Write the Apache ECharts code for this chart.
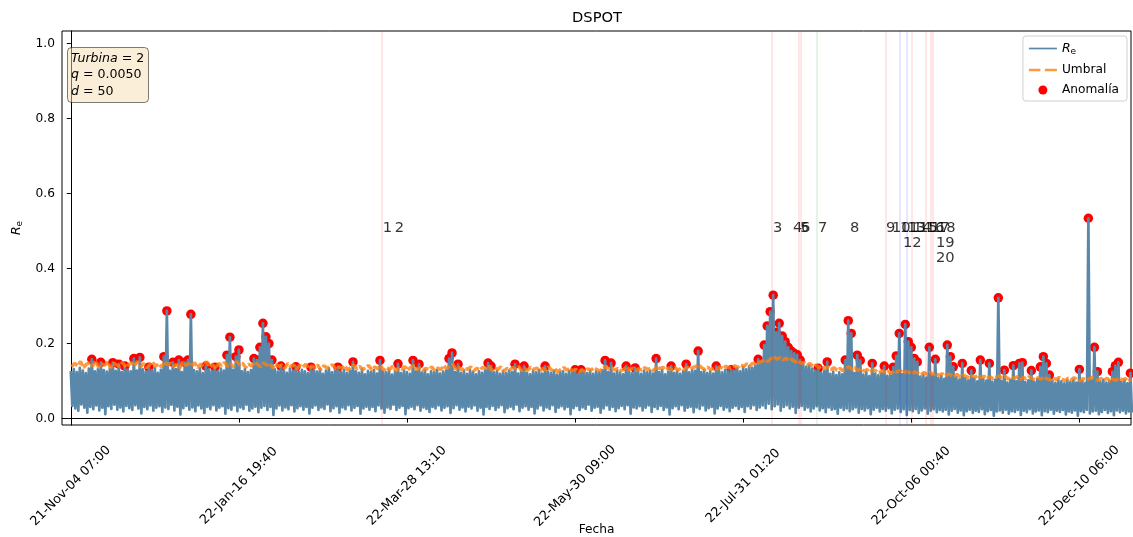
<!DOCTYPE html>
<html><head><meta charset="utf-8">
<script src="https://cdn.jsdelivr.net/npm/echarts@6/dist/echarts.min.js"></script>
<style>html,body{margin:0;padding:0;background:#fff}#c{width:1133px;height:537px}</style>
</head><body><div id="c"></div>
<script>
// ---- data ----
const tickPos = [0, 8400, 16800, 25200, 33600, 42000, 50400];
const tickLabels = ['21-Nov-04 07:00','22-Jan-16 19:40','22-Mar-28 13:10','22-May-30 09:00','22-Jul-31 01:20','22-Oct-06 00:40','22-Dec-10 06:00'];
const yTicks = [0, 0.2, 0.4, 0.6, 0.8, 1.0];
const step = 150; // samples per block (one high + one low reading of R_e)

const reHi = [
0.127,0.132,0.124,0.135,0.128,0.121,0.133,0.158,0.126,0.131,
0.150,0.129,0.125,0.133,0.149,0.127,0.145,0.124,0.140,0.130,
0.126,0.160,0.128,0.163,0.131,0.125,0.137,0.129,0.134,0.122,
0.130,0.165,0.287,0.127,0.150,0.132,0.156,0.124,0.150,0.156,
0.278,0.129,0.126,0.134,0.121,0.140,0.131,0.127,0.137,0.125,
0.133,0.128,0.169,0.217,0.130,0.165,0.183,0.126,0.132,0.124,
0.129,0.160,0.156,0.190,0.254,0.218,0.200,0.156,0.131,0.125,
0.140,0.128,0.122,0.133,0.127,0.138,0.124,0.130,0.126,0.121,
0.137,0.129,0.125,0.132,0.119,0.128,0.134,0.123,0.127,0.137,
0.124,0.130,0.121,0.128,0.151,0.126,0.122,0.131,0.118,0.127,
0.124,0.129,0.120,0.155,0.126,0.123,0.130,0.117,0.125,0.146,
0.121,0.128,0.124,0.119,0.155,0.126,0.145,0.122,0.129,0.118,
0.126,0.123,0.130,0.120,0.125,0.128,0.160,0.175,0.124,0.145,
0.121,0.127,0.119,0.129,0.124,0.118,0.126,0.122,0.130,0.148,
0.140,0.123,0.127,0.119,0.125,0.121,0.128,0.124,0.145,0.120,
0.126,0.140,0.122,0.118,0.127,0.123,0.129,0.120,0.140,0.125,
0.121,0.128,0.117,0.124,0.126,0.119,0.127,0.122,0.130,0.118,
0.130,0.125,0.121,0.128,0.119,0.126,0.123,0.129,0.155,0.124,
0.148,0.120,0.127,0.122,0.118,0.140,0.125,0.121,0.135,0.126,
0.119,0.128,0.123,0.127,0.120,0.160,0.124,0.129,0.118,0.125,
0.140,0.122,0.128,0.119,0.126,0.145,0.123,0.130,0.127,0.180,
0.124,0.129,0.121,0.126,0.120,0.140,0.127,0.123,0.130,0.125,
0.130,0.128,0.134,0.126,0.137,0.131,0.139,0.135,0.142,0.158,
0.150,0.196,0.247,0.285,0.329,0.230,0.254,0.220,0.205,0.190,
0.180,0.174,0.170,0.156,0.146,0.138,0.142,0.133,0.128,0.134,
0.122,0.127,0.151,0.119,0.125,0.116,0.123,0.118,0.156,0.261,
0.227,0.121,0.169,0.155,0.117,0.124,0.113,0.147,0.120,0.115,
0.122,0.140,0.114,0.119,0.137,0.167,0.227,0.118,0.251,0.205,
0.190,0.160,0.151,0.112,0.117,0.109,0.190,0.113,0.158,0.108,
0.114,0.106,0.196,0.165,0.138,0.110,0.104,0.147,0.108,0.102,
0.128,0.107,0.099,0.156,0.105,0.101,0.147,0.098,0.104,0.322,
0.100,0.129,0.096,0.103,0.141,0.099,0.147,0.149,0.097,0.102,
0.128,0.098,0.105,0.138,0.165,0.147,0.116,0.101,0.095,0.103,
0.099,0.094,0.102,0.097,0.104,0.096,0.131,0.100,0.095,0.534,
0.101,0.190,0.125,0.098,0.103,0.096,0.100,0.125,0.141,0.150,
0.097,0.102,0.094,0.121
];
const reLo = [
0.034,0.027,0.021,0.038,0.029,0.016,0.031,0.025,0.035,0.022,
0.029,0.012,0.033,0.026,0.037,0.024,0.030,0.019,0.034,0.028,
0.023,0.036,0.027,0.014,0.031,0.025,0.035,0.021,0.029,0.033,
0.018,0.030,0.026,0.037,0.022,0.032,0.011,0.028,0.034,0.024,
0.030,0.020,0.035,0.027,0.015,0.031,0.025,0.036,0.022,0.029,
0.033,0.013,0.028,0.024,0.035,0.020,0.030,0.026,0.037,0.021,
0.027,0.032,0.017,0.029,0.034,0.023,0.031,0.010,0.027,0.035,
0.022,0.030,0.025,0.036,0.019,0.028,0.033,0.024,0.031,0.014,
0.029,0.035,0.023,0.030,0.026,0.038,0.020,0.028,0.033,0.016,
0.030,0.025,0.036,0.022,0.029,0.034,0.013,0.027,0.032,0.024,
0.031,0.020,0.035,0.027,0.016,0.030,0.026,0.037,0.023,0.029,
0.034,0.012,0.028,0.032,0.025,0.036,0.021,0.030,0.026,0.018,
0.031,0.027,0.035,0.022,0.029,0.033,0.015,0.028,0.036,0.024,
0.030,0.019,0.032,0.027,0.035,0.021,0.029,0.011,0.031,0.026,
0.034,0.023,0.030,0.036,0.017,0.028,0.032,0.025,0.037,0.020,
0.029,0.033,0.024,0.031,0.014,0.027,0.035,0.022,0.030,0.026,
0.036,0.018,0.029,0.033,0.025,0.031,0.012,0.028,0.034,0.023,
0.030,0.026,0.037,0.021,0.029,0.032,0.016,0.027,0.035,0.024,
0.031,0.020,0.028,0.034,0.025,0.036,0.013,0.030,0.027,0.033,
0.022,0.029,0.035,0.018,0.031,0.026,0.034,0.023,0.030,0.011,
0.028,0.033,0.025,0.036,0.021,0.029,0.032,0.017,0.030,0.026,
0.035,0.022,0.028,0.031,0.014,0.027,0.034,0.024,0.030,0.020,
0.029,0.034,0.026,0.031,0.018,0.033,0.027,0.036,0.023,0.030,
0.035,0.028,0.040,0.025,0.033,0.038,0.021,0.031,0.036,0.027,
0.032,0.015,0.029,0.034,0.024,0.030,0.019,0.027,0.033,0.022,
0.028,0.017,0.030,0.024,0.026,0.013,0.029,0.023,0.027,0.020,
0.025,0.030,0.016,0.026,0.022,0.028,0.012,0.024,0.029,0.019,
0.026,0.021,0.028,0.014,0.024,0.027,0.018,0.025,0.010,0.023,
0.020,0.026,0.015,0.022,0.027,0.013,0.021,0.025,0.017,0.023,
0.019,0.024,0.011,0.021,0.026,0.016,0.022,0.009,0.020,0.024,
0.015,0.021,0.018,0.025,0.012,0.020,0.023,0.008,0.019,0.022,
0.016,0.024,0.013,0.020,0.018,0.023,0.010,0.021,0.017,0.025,
0.014,0.019,0.022,0.009,0.020,0.017,0.024,0.013,0.021,0.018,
0.023,0.011,0.019,0.016,0.022,0.008,0.020,0.017,0.024,0.014,
0.019,0.021,0.012,0.018,0.023,0.015,0.020,0.009,0.022,0.017,
0.021,0.014,0.019,0.016
];
const umbral = [
0.138,0.147,0.141,0.152,0.136,0.145,0.149,0.140,0.154,0.137,
0.146,0.142,0.151,0.135,0.148,0.143,0.139,0.150,0.137,0.144,
0.149,0.141,0.153,0.138,0.147,0.135,0.144,0.150,0.140,0.146,
0.137,0.152,0.143,0.148,0.139,0.145,0.134,0.151,0.142,0.147,
0.140,0.149,0.136,0.145,0.141,0.152,0.138,0.144,0.133,0.147,
0.142,0.150,0.139,0.146,0.137,0.153,0.143,0.148,0.136,0.145,
0.140,0.151,0.144,0.138,0.149,0.142,0.147,0.135,0.146,0.139,
0.143,0.134,0.147,0.139,0.144,0.131,0.142,0.137,0.145,0.133,
0.140,0.136,0.143,0.130,0.141,0.135,0.139,0.144,0.132,0.138,
0.134,0.141,0.129,0.137,0.143,0.133,0.139,0.131,0.136,0.142,
0.130,0.138,0.133,0.141,0.128,0.136,0.131,0.140,0.127,0.135,
0.132,0.139,0.129,0.137,0.142,0.130,0.136,0.127,0.134,0.131,
0.138,0.128,0.135,0.130,0.141,0.133,0.139,0.145,0.132,0.137,
0.129,0.136,0.131,0.138,0.127,0.134,0.130,0.137,0.133,0.140,
0.128,0.135,0.131,0.138,0.126,0.134,0.130,0.136,0.132,0.139,
0.127,0.133,0.129,0.137,0.131,0.135,0.126,0.134,0.130,0.138,
0.128,0.133,0.125,0.131,0.136,0.129,0.134,0.127,0.132,0.124,
0.130,0.126,0.133,0.129,0.135,0.131,0.127,0.134,0.139,0.132,
0.136,0.129,0.134,0.127,0.132,0.138,0.130,0.135,0.128,0.133,
0.129,0.136,0.131,0.134,0.127,0.140,0.133,0.137,0.130,0.135,
0.131,0.137,0.129,0.134,0.130,0.138,0.132,0.136,0.139,0.143,
0.135,0.131,0.137,0.130,0.134,0.132,0.138,0.133,0.140,0.135,
0.137,0.141,0.136,0.143,0.139,0.146,0.141,0.148,0.144,0.150,
0.153,0.157,0.152,0.160,0.165,0.158,0.163,0.156,0.161,0.155,
0.158,0.151,0.155,0.147,0.150,0.143,0.147,0.139,0.143,0.136,
0.140,0.133,0.138,0.131,0.136,0.129,0.134,0.127,0.135,0.138,
0.131,0.136,0.128,0.133,0.126,0.131,0.124,0.130,0.127,0.122,
0.128,0.123,0.126,0.120,0.127,0.124,0.129,0.121,0.126,0.123,
0.119,0.125,0.121,0.117,0.123,0.118,0.124,0.116,0.121,0.115,
0.120,0.114,0.119,0.116,0.112,0.118,0.111,0.116,0.113,0.108,
0.114,0.110,0.116,0.109,0.113,0.107,0.112,0.106,0.111,0.114,
0.108,0.113,0.105,0.111,0.107,0.112,0.104,0.110,0.106,0.112,
0.107,0.103,0.109,0.105,0.111,0.106,0.102,0.108,0.104,0.110,
0.105,0.101,0.108,0.103,0.109,0.104,0.100,0.107,0.103,0.106,
0.110,0.104,0.101,0.107,0.103,0.108,0.099,0.105,0.102,0.108,
0.103,0.107,0.100,0.105
];
// anomalies: block index and value
const anomBlock = [7,10,14,16,18,21,23,26,31,32,34,36,38,39,40,45,48,52,53,55,56,61,62,63,64,65,66,67,70,75,80,89,94,
  103,109,114,116,126,127,129,139,140,148,151,158,168,170,178,180,185,188,195,200,205,209,215,220,
  229,231,232,233,234,235,236,237,238,239,240,241,242,243,249,252,258,259,260,262,263,267,271,274,275,276,278,279,280,281,282,
  286,288,292,293,294,297,300,303,306,309,311,314,316,317,320,323,324,325,326,336,339,341,342,347,348,349,353];
const anomValue = [0.158,0.150,0.149,0.145,0.140,0.160,0.163,0.137,0.165,0.287,0.150,0.156,0.150,0.156,0.278,0.140,0.137,0.169,0.217,0.165,0.183,0.160,0.156,0.190,0.254,0.218,0.200,0.156,0.140,0.138,0.137,0.137,0.151,
  0.155,0.146,0.155,0.145,0.160,0.175,0.145,0.148,0.140,0.145,0.140,0.140,0.130,0.130,0.155,0.148,0.140,0.135,0.160,0.140,0.145,0.180,0.140,0.130,
  0.158,0.196,0.247,0.285,0.329,0.230,0.254,0.220,0.205,0.190,0.180,0.174,0.170,0.156,0.134,0.151,0.156,0.261,0.227,0.169,0.155,0.147,0.140,0.137,0.167,0.227,0.251,0.205,0.190,0.160,0.151,
  0.190,0.158,0.196,0.165,0.138,0.147,0.128,0.156,0.147,0.322,0.129,0.141,0.147,0.149,0.128,0.138,0.165,0.147,0.116,0.131,0.534,0.190,0.125,0.125,0.141,0.150,0.121];
// event markers (sample index) and kind
const eventLineX = [15545,35045,36360,36460,37260,40710,41410,41795,42045,42745,42960,43095];
const eventLineKind = ['a','a','a','a','b','a','c','c','a','a','a','a'];
const eventLabels = ['1','2','3','4','5','6','7','8','9','10','11','12','13','14','15','16','17','18','19','20'];
const eventLabelX = [15560,16160,35060,36060,36410,36460,37310,38910,40710,41010,41410,41560,41760,42060,42360,42710,42960,43260,43210,43210];
const eventLabelY = [0.508,0.508,0.508,0.508,0.508,0.508,0.508,0.508,0.508,0.508,0.508,0.468,0.508,0.508,0.508,0.508,0.508,0.508,0.468,0.428];

// ---- build ----
const reData = [];
reHi.forEach((v, k) => { reData.push([k * step, v]); reData.push([k * step + step / 2, reLo[k]]); });
const thrData = umbral.map((v, k) => [k * step + step / 4, v]);
const anomData = anomBlock.map((k, i) => [k * step, anomValue[i]]);
const kindColor = {a: 'rgba(255,0,0,0.13)', b: 'rgba(0,128,0,0.13)', c: 'rgba(0,0,255,0.13)'};
const FF = 'DejaVu Sans';
const BLUE = '#5a88aa', ORANGE = 'rgba(255,127,14,0.8)';
const sub = {
  i: {fontStyle: 'italic', fontFamily: FF, fontSize: 12.5, color: '#000'},
  s: {fontFamily: FF, fontSize: 9, color: '#000', padding: [6, 0, 0, 0]}
};

const chart = echarts.init(document.getElementById('c'), null, {renderer: 'canvas'});
chart.setOption({
  animation: false,
  backgroundColor: '#fff',
  title: [
    {text: 'DSPOT', left: 567, top: 6, textStyle: {fontFamily: FF, fontSize: 14.7, fontWeight: 'normal', color: '#000'}},
    {text: '{i|Turbina} = 2\n{i|q} = 0.0050\n{i|d} = 50', left: 67, top: 47,
     backgroundColor: 'rgba(245,222,179,0.5)', borderColor: 'rgba(0,0,0,0.5)', borderWidth: 1, borderRadius: 4,
     padding: [3, 4, 3, 4],
     textStyle: {fontFamily: FF, fontSize: 12.6, lineHeight: 16.5, fontWeight: 'normal', color: '#000',
       rich: {i: {fontStyle: 'italic', fontFamily: FF, fontSize: 12.6, lineHeight: 16.5, color: '#000'}}}}
  ],
  legend: {
    orient: 'vertical', right: 6, top: 36,
    backgroundColor: 'rgba(255,255,255,0.8)', borderColor: '#d0d0d0', borderWidth: 1, borderRadius: 3,
    padding: [6, 8, 5, 6], itemGap: 8, itemWidth: 28, itemHeight: 9,
    textStyle: {fontFamily: FF, fontSize: 12.2, color: '#000', rich: sub},
    formatter: n => n === 'Re' ? '{i|R}{s|e}' : n,
    data: [
      {name: 'Re', icon: 'path://M0,0H28V1.7H0Z', itemStyle: {color: BLUE}},
      {name: 'Umbral', icon: 'path://M0,0H11.5V2.4H0ZM16,0H28V2.4H16Z', itemStyle: {color: ORANGE}},
      {name: 'Anomalía', icon: 'circle'}
    ]
  },
  grid: {left: 62, right: 2, top: 31, bottom: 112, containLabel: false, outerBoundsMode: 'none',
    show: true, borderColor: '#000', borderWidth: 1, backgroundColor: 'transparent'},
  xAxis: {
    type: 'value', min: -440, max: 52980,
    axisLine: {show: true, lineStyle: {color: '#000', width: 1}},
    axisTick: {show: true, customValues: tickPos, length: 4, lineStyle: {color: '#000'}},
    axisLabel: {customValues: tickPos, formatter: v => tickLabels[tickPos.indexOf(v)] || '', rotate: 45,
      align: 'center', verticalAlign: 'middle', margin: 61, fontFamily: FF, fontSize: 12.8, color: '#000'},
    splitLine: {show: false},
    name: 'Fecha', nameLocation: 'middle', nameGap: 99, nameMoveOverlap: false,
    nameTextStyle: {fontFamily: FF, fontSize: 12.2, color: '#000'}
  },
  yAxis: {
    type: 'value', min: -0.017, max: 1.033,
    axisLine: {show: true, lineStyle: {color: '#000', width: 1}},
    axisTick: {show: true, customValues: yTicks, length: 4, lineStyle: {color: '#000'}},
    axisLabel: {customValues: yTicks, formatter: v => v.toFixed(1), margin: 7, fontFamily: FF, fontSize: 12.2, color: '#000'},
    splitLine: {show: false},
    name: '{i|R}{s|e}', nameLocation: 'middle', nameGap: 38, nameRotate: 90, nameMoveOverlap: false,
    nameTextStyle: {fontFamily: FF, fontSize: 12.2, color: '#000', rich: sub}
  },
  series: [
    {type: 'line', name: 'events', data: [], z: 1, silent: true,
     markLine: {silent: true, symbol: ['none', 'none'], label: {show: false}, animation: false,
       data: eventLineX.map((x, i) => ({xAxis: x, lineStyle: {color: kindColor[eventLineKind[i]], width: 1.5, type: 'solid'}}))}},
    {type: 'scatter', name: 'Anomalía', data: anomData, symbolSize: 9.5, z: 2, silent: true,
     itemStyle: {color: '#ff0000', opacity: 1}},
    {type: 'line', name: 'Re', data: reData, z: 3, silent: true, showSymbol: false, symbol: 'none', sampling: 'none',
     lineStyle: {color: BLUE, width: 2.7, join: 'round'}, itemStyle: {color: BLUE}},
    {type: 'line', name: 'Umbral', data: thrData, z: 4, silent: true, showSymbol: false, symbol: 'none', sampling: 'none',
     lineStyle: {color: ORANGE, width: 3.4, type: [8, 2]}, itemStyle: {color: ORANGE}},
    {type: 'scatter', name: 'labels', data: eventLabelX.map((x, i) => [x, eventLabelY[i], eventLabels[i]]),
     symbolSize: 1, z: 5, silent: true, itemStyle: {color: 'rgba(0,0,0,0)'},
     label: {show: true, position: 'right', distance: 0, formatter: p => p.data[2],
       fontFamily: FF, fontSize: 14.7, color: '#000'}}
  ]
});
</script></body></html>
